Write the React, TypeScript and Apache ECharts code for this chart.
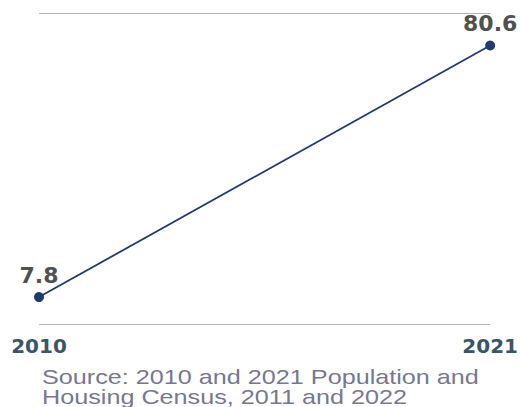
import React, { useEffect, useRef } from "react";
import * as echarts from "echarts";

const categories = ["2010", "2021"];
const values = [7.8, 80.6];
const sourceLines = [
  "Source: 2010 and 2021 Population and",
  "Housing Census, 2011 and 2022",
];

export default function App() {
  const ref = useRef<HTMLDivElement>(null);
  useEffect(() => {
    if (!ref.current) return;
    const chart = echarts.init(ref.current, null, { renderer: "svg" });
    chart.setOption({
      animation: false,
      backgroundColor: "#ffffff",
      grid: { left: 39, right: 27, top: 13, bottom: 83, containLabel: false },
      xAxis: {
        type: "category",
        data: categories,
        boundaryGap: false,
        axisLine: { show: false },
        axisTick: { show: false },
        axisLabel: {
          margin: 12,
          fontFamily: "DejaVu Sans",
          fontWeight: "bold",
          fontSize: 20,
          color: "#3b5565",
        },
      },
      yAxis: {
        type: "value",
        min: 0,
        max: 90,
        interval: 90,
        axisLabel: { show: false },
        axisLine: { show: false },
        axisTick: { show: false },
        splitLine: { lineStyle: { color: "#b4b4b4", width: 1 } },
      },
      series: [
        {
          type: "line",
          data: values,
          symbol: "circle",
          symbolSize: 10,
          lineStyle: { color: "#1f3b6f", width: 1.8 },
          itemStyle: { color: "#1f3b6f" },
          label: {
            show: true,
            position: "top",
            distance: 6,
            fontFamily: "DejaVu Sans",
            fontWeight: "bold",
            fontSize: 22,
            color: "#505050",
          },
        },
      ],
      graphic: [
        {
          type: "text",
          x: 42,
          y: 367,
          scaleX: 1.26,
          style: {
            text: sourceLines.join("\n"),
            font: '20px "Liberation Sans"',
            fill: "#777790",
            lineHeight: 20,
            textVerticalAlign: "top",
          },
        },
      ],
    });
    return () => chart.dispose();
  }, []);
  return (
    <div
      ref={ref}
      style={{ position: "fixed", left: 0, top: 0, width: 521, height: 407 }}
    />
  );
}
